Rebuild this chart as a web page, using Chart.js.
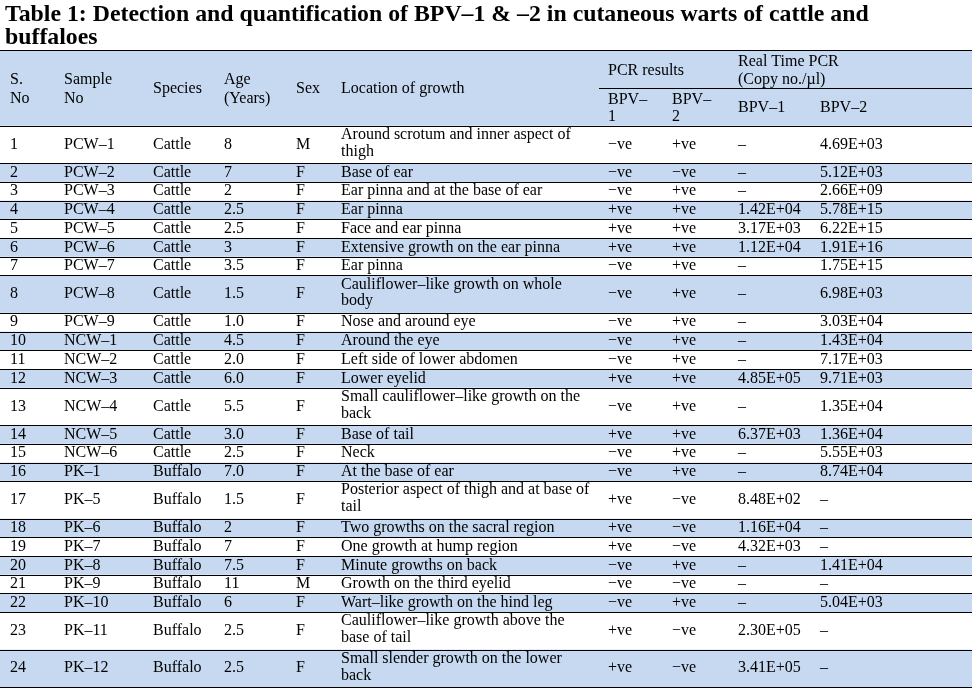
<!DOCTYPE html>
<html>
<head>
<meta charset="utf-8">
<script src="https://cdn.jsdelivr.net/npm/chart.js@4.4.0/dist/chart.umd.min.js"></script>
<style>
  html, body { margin: 0; padding: 0; background: #fff; }
  #wrap { width: 974px; height: 690px; }
</style>
</head>
<body>
<div id="wrap"><canvas id="table"></canvas></div>
<script>
// table data, one array per column
const sNo = ['1','2','3','4','5','6','7','8','9','10','11','12','13','14','15','16','17','18','19','20','21','22','23','24'];
const sampleNo = ['PCW–1','PCW–2','PCW–3','PCW–4','PCW–5','PCW–6','PCW–7','PCW–8','PCW–9','NCW–1','NCW–2','NCW–3',
  'NCW–4','NCW–5','NCW–6','PK–1','PK–5','PK–6','PK–7','PK–8','PK–9','PK–10','PK–11','PK–12'];
const species = ['Cattle','Cattle','Cattle','Cattle','Cattle','Cattle','Cattle','Cattle','Cattle','Cattle','Cattle','Cattle',
  'Cattle','Cattle','Cattle','Buffalo','Buffalo','Buffalo','Buffalo','Buffalo','Buffalo','Buffalo','Buffalo','Buffalo'];
const age = ['8','7','2','2.5','2.5','3','3.5','1.5','1.0','4.5','2.0','6.0','5.5','3.0','2.5','7.0','1.5','2','7','7.5','11','6','2.5','2.5'];
const sex = ['M','F','F','F','F','F','F','F','F','F','F','F','F','F','F','F','F','F','F','F','M','F','F','F'];
const growthSite = [
  'Around scrotum and inner aspect of\nthigh',
  'Base of ear',
  'Ear pinna and at the base of ear',
  'Ear pinna',
  'Face and ear pinna',
  'Extensive growth on the ear pinna',
  'Ear pinna',
  'Cauliflower–like growth on whole\nbody',
  'Nose and around eye',
  'Around the eye',
  'Left side of lower abdomen',
  'Lower eyelid',
  'Small cauliflower–like growth on the\nback',
  'Base of tail',
  'Neck',
  'At the base of ear',
  'Posterior aspect of thigh and at base of\ntail',
  'Two growths on the sacral region',
  'One growth at hump region',
  'Minute growths on back',
  'Growth on the third eyelid',
  'Wart–like growth on the hind leg',
  'Cauliflower–like growth above the\nbase of tail',
  'Small slender growth on the lower\nback'
];
const pcrBpv1 = ['−ve','−ve','−ve','+ve','+ve','+ve','−ve','−ve','−ve','−ve','−ve','+ve','−ve','+ve','−ve','−ve','+ve','+ve','+ve','−ve','−ve','−ve','+ve','+ve'];
const pcrBpv2 = ['+ve','−ve','+ve','+ve','+ve','+ve','+ve','+ve','+ve','+ve','+ve','+ve','+ve','+ve','+ve','+ve','−ve','−ve','−ve','+ve','−ve','+ve','−ve','−ve'];
const rtBpv1 = ['–','–','–','1.42E+04','3.17E+03','1.12E+04','–','–','–','–','–','4.85E+05','–','6.37E+03','–','–',
  '8.48E+02','1.16E+04','4.32E+03','–','–','–','2.30E+05','3.41E+05'];
const rtBpv2 = ['4.69E+03','5.12E+03','2.66E+09','5.78E+15','6.22E+15','1.91E+16','1.75E+15','6.98E+03','3.03E+04','1.43E+04',
  '7.17E+03','9.71E+03','1.35E+04','1.36E+04','5.55E+03','8.74E+04','–','–','–','1.41E+04','–','5.04E+03','–','–'];
const titleLines = ['Table 1: Detection and quantification of BPV–1 & –2 in cutaneous warts of cattle and', 'buffaloes'];

// layout (x in table px, y in text-line units)
const colX = [10, 64, 153, 224, 296, 341, 608, 672, 738, 820];
const TABLE_W = 972;
const HEADER_H = 4.05;
const BLUE = '#c6d9f1';
const FONT = '16px "Liberation Serif", serif';

const headerCells = [
  { t: 'S.', x: 10, y: 1.6 }, { t: 'No', x: 10, y: 2.59 },
  { t: 'Sample', x: 64, y: 1.6 }, { t: 'No', x: 64, y: 2.59 },
  { t: 'Species', x: 153, y: 2.05 },
  { t: 'Age', x: 224, y: 1.6 }, { t: '(Years)', x: 224, y: 2.59 },
  { t: 'Sex', x: 296, y: 2.05 },
  { t: 'Location of growth', x: 341, y: 2.05 },
  { t: 'PCR results', x: 608, y: 1.1 },
  { t: 'Real Time PCR', x: 738, y: 0.62 }, { t: '(Copy no./µl)', x: 738, y: 1.6 },
  { t: 'BPV–', x: 608, y: 2.67 }, { t: '1', x: 608, y: 3.59 },
  { t: 'BPV–', x: 672, y: 2.67 }, { t: '2', x: 672, y: 3.59 },
  { t: 'BPV–1', x: 738, y: 3.1 }, { t: 'BPV–2', x: 820, y: 3.1 }
];

const columns = [sNo, sampleNo, species, age, sex, growthSite, pcrBpv1, pcrBpv2, rtBpv1, rtBpv2];
const rowSpan = growthSite.map(s => s.split('\n').length);
const rowTop = [];
rowSpan.reduce((acc, s, i) => { rowTop[i] = acc; return acc + s; }, HEADER_H);
const totalUnits = HEADER_H + rowSpan.reduce((a, b) => a + b, 0);

const tablePlugin = {
  id: 'tableDraw',
  beforeDatasetsDraw(chart) {
    const { ctx, scales: { x, y } } = chart;
    const x0 = x.getPixelForValue(0), x1 = x.getPixelForValue(TABLE_W);
    const band = (a, b) => {
      const ya = y.getPixelForValue(a), yb = y.getPixelForValue(b);
      ctx.fillRect(x0, ya, x1 - x0, yb - ya);
    };
    const hline = (u, from) => {
      const py = Math.round(y.getPixelForValue(u)) + 0.5;
      ctx.beginPath();
      ctx.moveTo(x.getPixelForValue(from), py);
      ctx.lineTo(x1, py);
      ctx.stroke();
    };
    ctx.save();
    ctx.fillStyle = BLUE;
    band(0, HEADER_H);
    rowTop.forEach((t, i) => { if (i % 2 === 1) band(t, t + rowSpan[i]); });
    ctx.strokeStyle = '#000';
    ctx.lineWidth = 1;
    hline(0, 0);
    hline(2.05, 599);
    hline(HEADER_H, 0);
    rowTop.forEach((t, i) => hline(t + rowSpan[i], 0));
    ctx.restore();
  },
  afterDatasetsDraw(chart) {
    const { ctx, scales: { x, y } } = chart;
    ctx.save();
    ctx.font = FONT;
    ctx.fillStyle = '#000';
    ctx.textBaseline = 'middle';
    ctx.textAlign = 'left';
    headerCells.forEach(c => ctx.fillText(c.t, x.getPixelForValue(c.x), y.getPixelForValue(c.y)));
    rowTop.forEach((t, i) => {
      columns.forEach((col, c) => {
        const px = x.getPixelForValue(colX[c]);
        const lines = col[i].split('\n');
        if (lines.length === 1) {
          ctx.fillText(lines[0], px, y.getPixelForValue(t + rowSpan[i] / 2));
        } else {
          lines.forEach((ln, k) => ctx.fillText(ln, px, y.getPixelForValue(t + 0.48 + k * 0.9)));
        }
      });
    });
    ctx.restore();
  }
};

new Chart(document.getElementById('table'), {
  type: 'scatter',
  data: { datasets: [{ data: [], pointRadius: 0 }] },
  options: {
    responsive: true,
    maintainAspectRatio: false,
    animation: false,
    events: [],
    layout: { padding: { left: 5, right: 2, top: 0, bottom: 3 } },
    scales: {
      x: { type: 'linear', display: false, min: 5, max: TABLE_W },
      y: { type: 'linear', display: false, reverse: true, min: 0, max: totalUnits }
    },
    plugins: {
      legend: { display: false },
      tooltip: { enabled: false },
      title: {
        display: true,
        text: titleLines,
        align: 'start',
        color: '#000',
        font: { family: '"Liberation Serif", serif', size: 23.8, weight: 'bold', lineHeight: 0.94 },
        padding: { top: 4, bottom: 1.3 }
      }
    }
  },
  plugins: [tablePlugin]
});
</script>
</body>
</html>
